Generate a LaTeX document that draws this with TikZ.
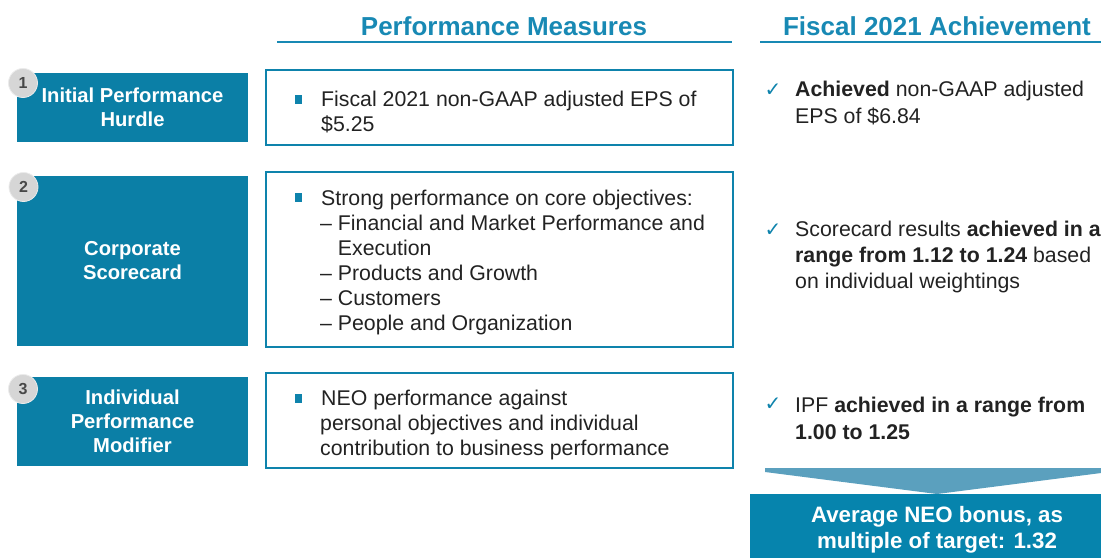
\documentclass[tikz,border=0pt]{standalone}
\usepackage{fontspec}
\setmainfont{Liberation Sans}
\newfontfamily\symfont{DejaVu Sans}
\definecolor{boxteal}{RGB}{11,127,166}
\definecolor{bordteal}{RGB}{14,131,172}
\definecolor{headteal}{RGB}{24,137,180}
\definecolor{chevteal}{RGB}{91,160,190}
\definecolor{bottomteal}{RGB}{6,132,173}
\definecolor{txt}{RGB}{34,34,34}
\definecolor{badgegray}{RGB}{214,214,214}
\definecolor{badgetext}{RGB}{72,72,72}
\begin{document}
\begin{tikzpicture}[x=1pt,y=-1pt,
  header/.style={text=headteal,font=\bfseries\fontsize{26}{30}\selectfont,inner sep=0},
  rule/.style={draw=headteal,line width=2pt},
  leftbox/.style={fill=boxteal,draw=none,minimum width=231pt,text=white,
    font=\bfseries\fontsize{20.2}{24}\selectfont,align=center,inner sep=0},
  badge/.style={circle,fill=badgegray,draw=white!92!black,line width=0.8pt,minimum size=29pt,inner sep=0,
    text=badgetext,font=\bfseries\fontsize{16}{16}\selectfont},
  midbox/.style={draw=bordteal,line width=2pt,minimum width=467pt,inner sep=0},
  bullet/.style={fill=bordteal,minimum width=7pt,minimum height=8.5pt,inner sep=0},
  body/.style={text=txt,font=\fontsize{21.3}{25}\selectfont,align=left,inner sep=0,anchor=west},
  rbody/.style={text=txt,font=\fontsize{21.3}{26}\selectfont,align=left,inner sep=0,anchor=west},
  check/.style={text=bordteal,font=\symfont\fontsize{20}{20}\selectfont,inner sep=0},
]
\useasboundingbox (0,0) rectangle (1101,558);
\clip (0,0) rectangle (1101,558);

% headers
\node[header] (h1) at (504,26) {Performance Measures};
\node[header] (h2) at (937,26) {Fiscal 2021 Achievement};
\coordinate (u1a) at (277,42); \coordinate (u1b) at (732,42);
\coordinate (u2a) at (760,42); \coordinate (u2b) at (1101,42);
\draw[rule] (u1a) -- (u1b);
\draw[rule] (u2a) -- (u2b);

% left boxes
\node[leftbox,minimum height=69pt] (l1) at (132.5,107.5) {Initial Performance\\Hurdle};
\node[leftbox,minimum height=170pt] (l2) at (132.5,261) {Corporate\\Scorecard};
\node[leftbox,minimum height=89pt] (l3) at (132.5,421.5) {Individual\\Performance\\Modifier};
\node[badge] (b1) at (23,83) {1};
\node[badge] (b2) at (23.5,187) {2};
\node[badge] (b3) at (23,389) {3};

% middle boxes
\node[midbox,minimum height=75pt] (m1) at (499.5,107.5) {};
\node[midbox,minimum height=175pt] (m2) at (499.5,259.5) {};
\node[midbox,minimum height=95pt] (m3) at (499.5,420.5) {};
\node[bullet] (d1) at (298,99.5) {};
\node[bullet] (d2) at (298,197.5) {};
\node[bullet] (d3) at (298,398.5) {};
\node[body] (t1) at (321,112) {Fiscal 2021 non-GAAP adjusted EPS of\\\$5.25};
\node[body] (t2) at (320,262) {\hspace{1pt}Strong performance on core objectives:\\
– Financial and Market Performance and\\
\phantom{– }Execution\\
– Products and Growth\\
– Customers\\
– People and Organization};
\node[body] (t3) at (320,425) {\hspace{1pt}NEO performance against\\personal objectives and individual\\contribution to business performance};

% right column
\node[check] (c1) at (773,90) {✓};
\node[check] (c2) at (773,230) {✓};
\node[check] (c3) at (773,404) {✓};
\node[rbody,font=\fontsize{21.3}{27}\selectfont] (r1) at (795,103.5) {\textbf{Achieved} non-GAAP adjusted\\EPS of \$6.84};
\node[rbody] (r2) at (795,257) {Scorecard results \textbf{achieved in a}\\\textbf{range from 1.12 to 1.24} based\\on individual weightings};
\node[rbody,font=\fontsize{21.3}{27}\selectfont] (r3) at (795,418) {IPF \textbf{achieved in a range from}\\\textbf{1.00 to 1.25}};

% chevron and result
\coordinate (ca) at (765,468); \coordinate (cb) at (1109,468);
\coordinate (cc) at (1109,472); \coordinate (cd) at (937,494);
\coordinate (ce) at (765,472);
\fill[chevteal] (ca) -- (cb) -- (cc) -- (cd) -- (ce) -- cycle;
\node[fill=bottomteal,minimum width=374pt,minimum height=64pt,inner sep=0] (res) at (937,526) {};
\node[text=white,font=\bfseries\fontsize{22.3}{26}\selectfont,align=center,inner sep=0] (rest) at (937,530) {Average NEO bonus, as\\multiple of target: 1.32};
\end{tikzpicture}
\end{document}
